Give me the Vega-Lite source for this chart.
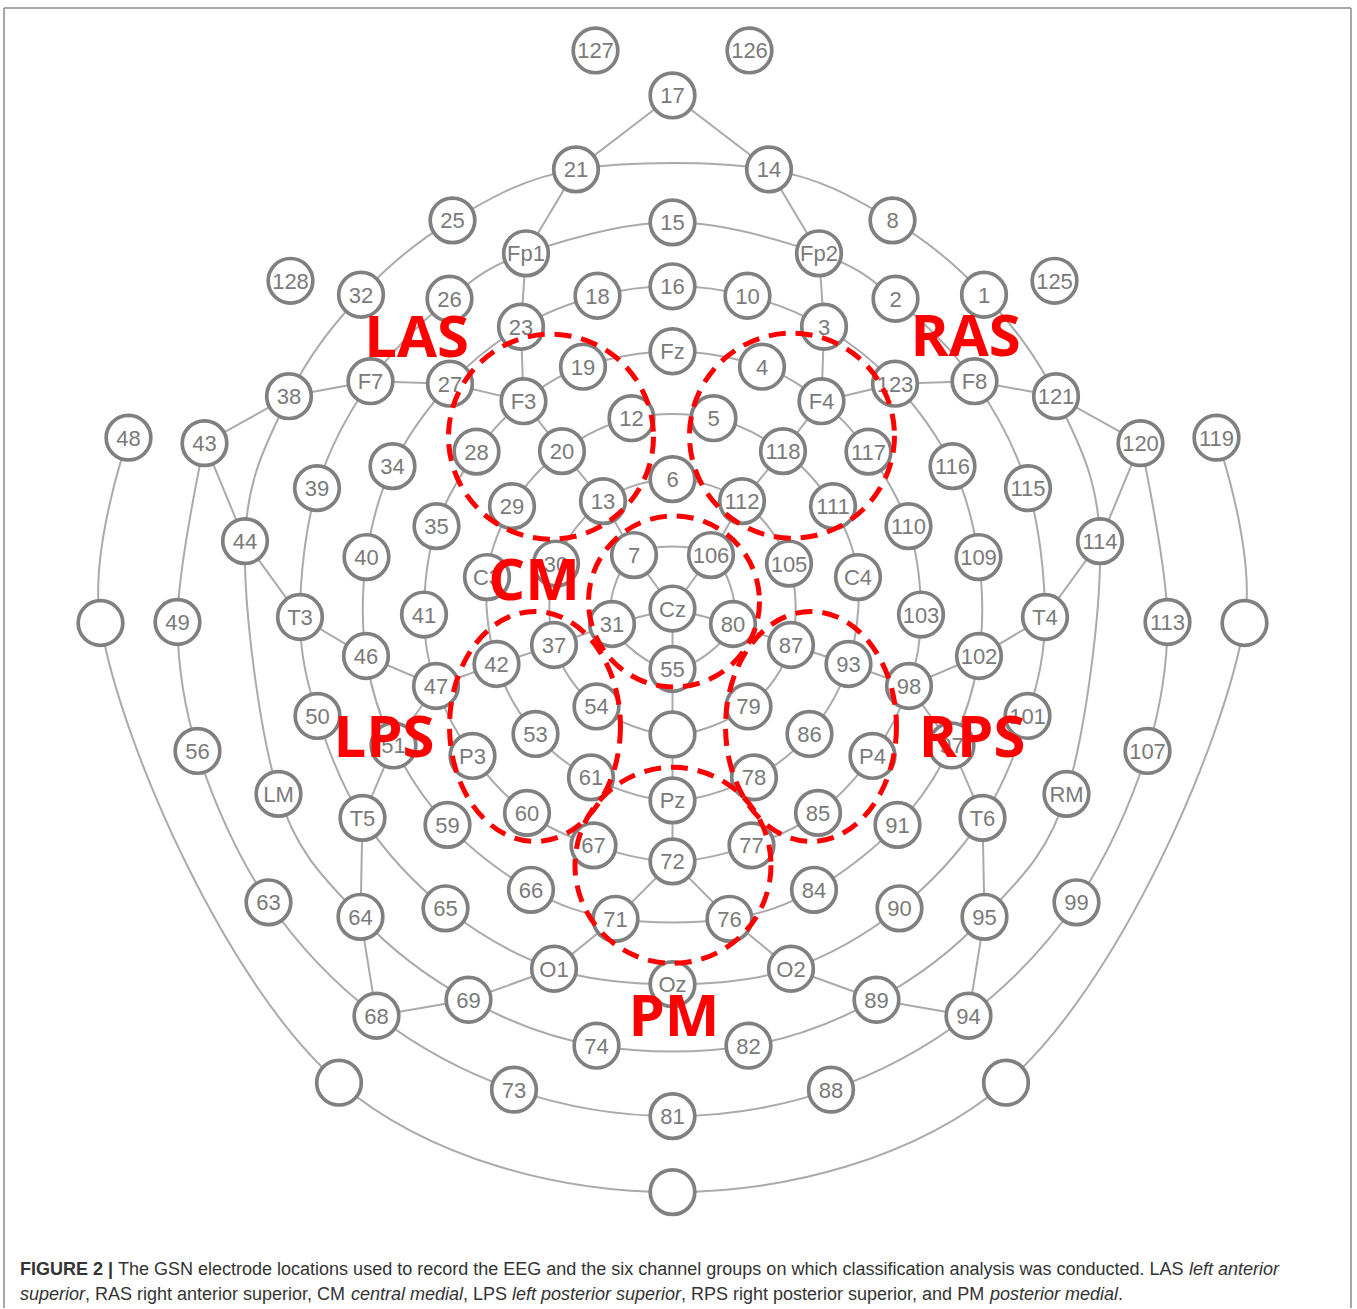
{
  "$schema": "https://vega.github.io/schema/vega-lite/v6.json",
  "width": 1357,
  "height": 1309,
  "autosize": {"type": "fit", "contains": "padding"},
  "padding": 0,
  "background": "#ffffff",
  "config": {"view": {"stroke": null}},
  "datasets": {
    "nodes": [
      {"id": "127", "label": "127", "x": 595.5, "y": 50.5},
      {"id": "126", "label": "126", "x": 749.5, "y": 50.5},
      {"id": "17", "label": "17", "x": 672.5, "y": 95.5},
      {"id": "21", "label": "21", "x": 576, "y": 169.5},
      {"id": "14", "label": "14", "x": 769, "y": 169.5},
      {"id": "25", "label": "25", "x": 452.5, "y": 220.5},
      {"id": "15", "label": "15", "x": 672.5, "y": 222.5},
      {"id": "8", "label": "8", "x": 892.5, "y": 220.5},
      {"id": "Fp1", "label": "Fp1", "x": 526, "y": 253.5},
      {"id": "Fp2", "label": "Fp2", "x": 819, "y": 253.5},
      {"id": "128", "label": "128", "x": 290.5, "y": 281},
      {"id": "125", "label": "125", "x": 1054.5, "y": 281},
      {"id": "32", "label": "32", "x": 361, "y": 295},
      {"id": "1", "label": "1", "x": 984, "y": 295},
      {"id": "26", "label": "26", "x": 449.5, "y": 299},
      {"id": "2", "label": "2", "x": 895.5, "y": 299},
      {"id": "18", "label": "18", "x": 597.5, "y": 296},
      {"id": "16", "label": "16", "x": 672.5, "y": 286.5},
      {"id": "10", "label": "10", "x": 747.5, "y": 296},
      {"id": "23", "label": "23", "x": 521, "y": 327},
      {"id": "3", "label": "3", "x": 824, "y": 327},
      {"id": "Fz", "label": "Fz", "x": 672.5, "y": 351.5},
      {"id": "19", "label": "19", "x": 583, "y": 367},
      {"id": "4", "label": "4", "x": 762, "y": 367},
      {"id": "F7", "label": "F7", "x": 370.5, "y": 381.5},
      {"id": "F8", "label": "F8", "x": 974.5, "y": 381.5},
      {"id": "27", "label": "27", "x": 450, "y": 384},
      {"id": "123", "label": "123", "x": 895, "y": 384},
      {"id": "F3", "label": "F3", "x": 523.5, "y": 401.5},
      {"id": "F4", "label": "F4", "x": 821.5, "y": 401.5},
      {"id": "12", "label": "12", "x": 631.5, "y": 418.5},
      {"id": "5", "label": "5", "x": 713.5, "y": 418.5},
      {"id": "38", "label": "38", "x": 289, "y": 396.5},
      {"id": "121", "label": "121", "x": 1056, "y": 396.5},
      {"id": "48", "label": "48", "x": 128.5, "y": 438},
      {"id": "119", "label": "119", "x": 1216.5, "y": 438},
      {"id": "43", "label": "43", "x": 204.5, "y": 443.5},
      {"id": "120", "label": "120", "x": 1140.5, "y": 443.5},
      {"id": "34", "label": "34", "x": 392.5, "y": 466.5},
      {"id": "116", "label": "116", "x": 952.5, "y": 466.5},
      {"id": "28", "label": "28", "x": 476.5, "y": 452},
      {"id": "117", "label": "117", "x": 868.5, "y": 452},
      {"id": "20", "label": "20", "x": 562, "y": 451.5},
      {"id": "118", "label": "118", "x": 783, "y": 451.5},
      {"id": "6", "label": "6", "x": 672.5, "y": 479.5},
      {"id": "39", "label": "39", "x": 317, "y": 488.5},
      {"id": "115", "label": "115", "x": 1028, "y": 488.5},
      {"id": "29", "label": "29", "x": 512, "y": 506.5},
      {"id": "111", "label": "111", "x": 833, "y": 506.5},
      {"id": "13", "label": "13", "x": 603, "y": 501.5},
      {"id": "112", "label": "112", "x": 742, "y": 501.5},
      {"id": "35", "label": "35", "x": 436.5, "y": 526.5},
      {"id": "110", "label": "110", "x": 908.5, "y": 526.5},
      {"id": "44", "label": "44", "x": 245, "y": 541.5},
      {"id": "114", "label": "114", "x": 1100, "y": 541.5},
      {"id": "40", "label": "40", "x": 366.5, "y": 557.5},
      {"id": "109", "label": "109", "x": 978.5, "y": 557.5},
      {"id": "30", "label": "30", "x": 556, "y": 564},
      {"id": "105", "label": "105", "x": 789, "y": 564},
      {"id": "C3", "label": "C3", "x": 487, "y": 577.5},
      {"id": "C4", "label": "C4", "x": 858, "y": 577.5},
      {"id": "7", "label": "7", "x": 634, "y": 555.5},
      {"id": "106", "label": "106", "x": 711, "y": 555.5},
      {"id": "Cz", "label": "Cz", "x": 672.5, "y": 609},
      {"id": "EL", "label": "", "x": 100.5, "y": 623.5},
      {"id": "ER", "label": "", "x": 1244.5, "y": 623.5},
      {"id": "49", "label": "49", "x": 177.5, "y": 622.5},
      {"id": "113", "label": "113", "x": 1167.5, "y": 622.5},
      {"id": "T3", "label": "T3", "x": 300, "y": 617.5},
      {"id": "T4", "label": "T4", "x": 1045, "y": 617.5},
      {"id": "41", "label": "41", "x": 424, "y": 615},
      {"id": "103", "label": "103", "x": 921, "y": 615},
      {"id": "31", "label": "31", "x": 612, "y": 624.5},
      {"id": "80", "label": "80", "x": 733, "y": 624.5},
      {"id": "37", "label": "37", "x": 554, "y": 645.5},
      {"id": "87", "label": "87", "x": 791, "y": 645.5},
      {"id": "42", "label": "42", "x": 496.5, "y": 664.5},
      {"id": "93", "label": "93", "x": 848.5, "y": 664.5},
      {"id": "46", "label": "46", "x": 366, "y": 656.5},
      {"id": "102", "label": "102", "x": 979, "y": 656.5},
      {"id": "55", "label": "55", "x": 672.5, "y": 669.5},
      {"id": "47", "label": "47", "x": 436, "y": 686.5},
      {"id": "98", "label": "98", "x": 909, "y": 686.5},
      {"id": "50", "label": "50", "x": 317.5, "y": 716.5},
      {"id": "101", "label": "101", "x": 1027.5, "y": 716.5},
      {"id": "54", "label": "54", "x": 596.5, "y": 707},
      {"id": "79", "label": "79", "x": 748.5, "y": 707},
      {"id": "EC", "label": "", "x": 672.5, "y": 735},
      {"id": "53", "label": "53", "x": 535.5, "y": 734.5},
      {"id": "86", "label": "86", "x": 809.5, "y": 734.5},
      {"id": "56", "label": "56", "x": 197.5, "y": 751.5},
      {"id": "107", "label": "107", "x": 1147.5, "y": 751.5},
      {"id": "51", "label": "51", "x": 393.5, "y": 746},
      {"id": "97", "label": "97", "x": 951.5, "y": 746},
      {"id": "P3", "label": "P3", "x": 472.5, "y": 756.5},
      {"id": "P4", "label": "P4", "x": 872.5, "y": 756.5},
      {"id": "61", "label": "61", "x": 591, "y": 778},
      {"id": "78", "label": "78", "x": 754, "y": 778},
      {"id": "LM", "label": "LM", "x": 278.5, "y": 794.5},
      {"id": "RM", "label": "RM", "x": 1066.5, "y": 794.5},
      {"id": "Pz", "label": "Pz", "x": 672.5, "y": 801},
      {"id": "T5", "label": "T5", "x": 362.5, "y": 818.5},
      {"id": "T6", "label": "T6", "x": 982.5, "y": 818.5},
      {"id": "59", "label": "59", "x": 447.5, "y": 825.5},
      {"id": "91", "label": "91", "x": 897.5, "y": 825.5},
      {"id": "60", "label": "60", "x": 527, "y": 813.5},
      {"id": "85", "label": "85", "x": 818, "y": 813.5},
      {"id": "67", "label": "67", "x": 593.5, "y": 846},
      {"id": "77", "label": "77", "x": 751.5, "y": 846},
      {"id": "72", "label": "72", "x": 672.5, "y": 862},
      {"id": "66", "label": "66", "x": 531, "y": 890.5},
      {"id": "84", "label": "84", "x": 814, "y": 890.5},
      {"id": "63", "label": "63", "x": 268.5, "y": 903},
      {"id": "99", "label": "99", "x": 1076.5, "y": 903},
      {"id": "64", "label": "64", "x": 360.5, "y": 917.5},
      {"id": "95", "label": "95", "x": 984.5, "y": 917.5},
      {"id": "65", "label": "65", "x": 445.5, "y": 909},
      {"id": "90", "label": "90", "x": 899.5, "y": 909},
      {"id": "71", "label": "71", "x": 615.5, "y": 919.5},
      {"id": "76", "label": "76", "x": 729.5, "y": 919.5},
      {"id": "O1", "label": "O1", "x": 554, "y": 969.5},
      {"id": "O2", "label": "O2", "x": 791, "y": 969.5},
      {"id": "Oz", "label": "Oz", "x": 672.5, "y": 985},
      {"id": "69", "label": "69", "x": 468.5, "y": 1000.5},
      {"id": "89", "label": "89", "x": 876.5, "y": 1000.5},
      {"id": "68", "label": "68", "x": 376.5, "y": 1016.5},
      {"id": "94", "label": "94", "x": 968.5, "y": 1016.5},
      {"id": "74", "label": "74", "x": 596.5, "y": 1046.5},
      {"id": "82", "label": "82", "x": 748.5, "y": 1046.5},
      {"id": "EBL", "label": "", "x": 339, "y": 1083.5},
      {"id": "EBR", "label": "", "x": 1006, "y": 1083.5},
      {"id": "73", "label": "73", "x": 514, "y": 1090.5},
      {"id": "88", "label": "88", "x": 831, "y": 1090.5},
      {"id": "81", "label": "81", "x": 672.5, "y": 1117},
      {"id": "EB", "label": "", "x": 672.5, "y": 1193}
    ],
    "paths": [
      {"path": "R62", "kind": "ring", "seq": 1, "node": "7"},
      {"path": "R62", "kind": "ring", "seq": 2, "node": "106"},
      {"path": "R62", "kind": "ring", "seq": 3, "node": "80"},
      {"path": "R62", "kind": "ring", "seq": 4, "node": "55"},
      {"path": "R62", "kind": "ring", "seq": 5, "node": "31"},
      {"path": "R125", "kind": "ring", "seq": 1, "node": "6"},
      {"path": "R125", "kind": "ring", "seq": 2, "node": "112"},
      {"path": "R125", "kind": "ring", "seq": 3, "node": "105"},
      {"path": "R125", "kind": "ring", "seq": 4, "node": "87"},
      {"path": "R125", "kind": "ring", "seq": 5, "node": "79"},
      {"path": "R125", "kind": "ring", "seq": 6, "node": "EC"},
      {"path": "R125", "kind": "ring", "seq": 7, "node": "54"},
      {"path": "R125", "kind": "ring", "seq": 8, "node": "37"},
      {"path": "R125", "kind": "ring", "seq": 9, "node": "30"},
      {"path": "R125", "kind": "ring", "seq": 10, "node": "13"},
      {"path": "R190", "kind": "ring", "seq": 1, "node": "12"},
      {"path": "R190", "kind": "ring", "seq": 2, "node": "5"},
      {"path": "R190", "kind": "ring", "seq": 3, "node": "118"},
      {"path": "R190", "kind": "ring", "seq": 4, "node": "111"},
      {"path": "R190", "kind": "ring", "seq": 5, "node": "C4"},
      {"path": "R190", "kind": "ring", "seq": 6, "node": "93"},
      {"path": "R190", "kind": "ring", "seq": 7, "node": "86"},
      {"path": "R190", "kind": "ring", "seq": 8, "node": "78"},
      {"path": "R190", "kind": "ring", "seq": 9, "node": "Pz"},
      {"path": "R190", "kind": "ring", "seq": 10, "node": "61"},
      {"path": "R190", "kind": "ring", "seq": 11, "node": "53"},
      {"path": "R190", "kind": "ring", "seq": 12, "node": "42"},
      {"path": "R190", "kind": "ring", "seq": 13, "node": "C3"},
      {"path": "R190", "kind": "ring", "seq": 14, "node": "29"},
      {"path": "R190", "kind": "ring", "seq": 15, "node": "20"},
      {"path": "R255", "kind": "ring", "seq": 1, "node": "Fz"},
      {"path": "R255", "kind": "ring", "seq": 2, "node": "4"},
      {"path": "R255", "kind": "ring", "seq": 3, "node": "F4"},
      {"path": "R255", "kind": "ring", "seq": 4, "node": "117"},
      {"path": "R255", "kind": "ring", "seq": 5, "node": "110"},
      {"path": "R255", "kind": "ring", "seq": 6, "node": "103"},
      {"path": "R255", "kind": "ring", "seq": 7, "node": "98"},
      {"path": "R255", "kind": "ring", "seq": 8, "node": "P4"},
      {"path": "R255", "kind": "ring", "seq": 9, "node": "85"},
      {"path": "R255", "kind": "ring", "seq": 10, "node": "77"},
      {"path": "R255", "kind": "ring", "seq": 11, "node": "72"},
      {"path": "R255", "kind": "ring", "seq": 12, "node": "67"},
      {"path": "R255", "kind": "ring", "seq": 13, "node": "60"},
      {"path": "R255", "kind": "ring", "seq": 14, "node": "P3"},
      {"path": "R255", "kind": "ring", "seq": 15, "node": "47"},
      {"path": "R255", "kind": "ring", "seq": 16, "node": "41"},
      {"path": "R255", "kind": "ring", "seq": 17, "node": "35"},
      {"path": "R255", "kind": "ring", "seq": 18, "node": "28"},
      {"path": "R255", "kind": "ring", "seq": 19, "node": "F3"},
      {"path": "R255", "kind": "ring", "seq": 20, "node": "19"},
      {"path": "R320", "kind": "ring", "seq": 1, "node": "16"},
      {"path": "R320", "kind": "ring", "seq": 2, "node": "10"},
      {"path": "R320", "kind": "ring", "seq": 3, "node": "3"},
      {"path": "R320", "kind": "ring", "seq": 4, "node": "123"},
      {"path": "R320", "kind": "ring", "seq": 5, "node": "116"},
      {"path": "R320", "kind": "ring", "seq": 6, "node": "109"},
      {"path": "R320", "kind": "ring", "seq": 7, "node": "102"},
      {"path": "R320", "kind": "ring", "seq": 8, "node": "97"},
      {"path": "R320", "kind": "ring", "seq": 9, "node": "91"},
      {"path": "R320", "kind": "ring", "seq": 10, "node": "84"},
      {"path": "R320", "kind": "ring", "seq": 11, "node": "76"},
      {"path": "R320", "kind": "ring", "seq": 12, "node": "71"},
      {"path": "R320", "kind": "ring", "seq": 13, "node": "66"},
      {"path": "R320", "kind": "ring", "seq": 14, "node": "59"},
      {"path": "R320", "kind": "ring", "seq": 15, "node": "51"},
      {"path": "R320", "kind": "ring", "seq": 16, "node": "46"},
      {"path": "R320", "kind": "ring", "seq": 17, "node": "40"},
      {"path": "R320", "kind": "ring", "seq": 18, "node": "34"},
      {"path": "R320", "kind": "ring", "seq": 19, "node": "27"},
      {"path": "R320", "kind": "ring", "seq": 20, "node": "23"},
      {"path": "R320", "kind": "ring", "seq": 21, "node": "18"},
      {"path": "R380", "kind": "ring", "seq": 1, "node": "15"},
      {"path": "R380", "kind": "ring", "seq": 2, "node": "Fp2"},
      {"path": "R380", "kind": "ring", "seq": 3, "node": "2"},
      {"path": "R380", "kind": "ring", "seq": 4, "node": "F8"},
      {"path": "R380", "kind": "ring", "seq": 5, "node": "115"},
      {"path": "R380", "kind": "ring", "seq": 6, "node": "T4"},
      {"path": "R380", "kind": "ring", "seq": 7, "node": "101"},
      {"path": "R380", "kind": "ring", "seq": 8, "node": "T6"},
      {"path": "R380", "kind": "ring", "seq": 9, "node": "90"},
      {"path": "R380", "kind": "ring", "seq": 10, "node": "O2"},
      {"path": "R380", "kind": "ring", "seq": 11, "node": "Oz"},
      {"path": "R380", "kind": "ring", "seq": 12, "node": "O1"},
      {"path": "R380", "kind": "ring", "seq": 13, "node": "65"},
      {"path": "R380", "kind": "ring", "seq": 14, "node": "T5"},
      {"path": "R380", "kind": "ring", "seq": 15, "node": "50"},
      {"path": "R380", "kind": "ring", "seq": 16, "node": "T3"},
      {"path": "R380", "kind": "ring", "seq": 17, "node": "39"},
      {"path": "R380", "kind": "ring", "seq": 18, "node": "F7"},
      {"path": "R380", "kind": "ring", "seq": 19, "node": "26"},
      {"path": "R380", "kind": "ring", "seq": 20, "node": "Fp1"},
      {"path": "R440", "kind": "ring", "seq": 1, "node": "21"},
      {"path": "R440", "kind": "ring", "seq": 2, "node": "14"},
      {"path": "R440", "kind": "ring", "seq": 3, "node": "8"},
      {"path": "R440", "kind": "ring", "seq": 4, "node": "1"},
      {"path": "R440", "kind": "ring", "seq": 5, "node": "121"},
      {"path": "R440", "kind": "ring", "seq": 6, "node": "114"},
      {"path": "R440", "kind": "ring", "seq": 7, "node": "RM"},
      {"path": "R440", "kind": "ring", "seq": 8, "node": "95"},
      {"path": "R440", "kind": "ring", "seq": 9, "node": "89"},
      {"path": "R440", "kind": "ring", "seq": 10, "node": "82"},
      {"path": "R440", "kind": "ring", "seq": 11, "node": "74"},
      {"path": "R440", "kind": "ring", "seq": 12, "node": "69"},
      {"path": "R440", "kind": "ring", "seq": 13, "node": "64"},
      {"path": "R440", "kind": "ring", "seq": 14, "node": "LM"},
      {"path": "R440", "kind": "ring", "seq": 15, "node": "44"},
      {"path": "R440", "kind": "ring", "seq": 16, "node": "38"},
      {"path": "R440", "kind": "ring", "seq": 17, "node": "32"},
      {"path": "R440", "kind": "ring", "seq": 18, "node": "25"},
      {"path": "R500", "kind": "arc", "seq": 1, "node": "43"},
      {"path": "R500", "kind": "arc", "seq": 2, "node": "49"},
      {"path": "R500", "kind": "arc", "seq": 3, "node": "56"},
      {"path": "R500", "kind": "arc", "seq": 4, "node": "63"},
      {"path": "R500", "kind": "arc", "seq": 5, "node": "68"},
      {"path": "R500", "kind": "arc", "seq": 6, "node": "73"},
      {"path": "R500", "kind": "arc", "seq": 7, "node": "81"},
      {"path": "R500", "kind": "arc", "seq": 8, "node": "88"},
      {"path": "R500", "kind": "arc", "seq": 9, "node": "94"},
      {"path": "R500", "kind": "arc", "seq": 10, "node": "99"},
      {"path": "R500", "kind": "arc", "seq": 11, "node": "107"},
      {"path": "R500", "kind": "arc", "seq": 12, "node": "113"},
      {"path": "R500", "kind": "arc", "seq": 13, "node": "120"},
      {"path": "R575", "kind": "arc", "seq": 1, "node": "48"},
      {"path": "R575", "kind": "arc", "seq": 2, "node": "EL"},
      {"path": "R575", "kind": "arc", "seq": 3, "node": "EBL"},
      {"path": "R575", "kind": "arc", "seq": 4, "node": "EB"},
      {"path": "R575", "kind": "arc", "seq": 5, "node": "EBR"},
      {"path": "R575", "kind": "arc", "seq": 6, "node": "ER"},
      {"path": "R575", "kind": "arc", "seq": 7, "node": "119"},
      {"path": "S1", "kind": "spoke", "seq": 1, "node": "Cz"},
      {"path": "S1", "kind": "spoke", "seq": 2, "node": "7"},
      {"path": "S1", "kind": "spoke", "seq": 3, "node": "13"},
      {"path": "S1", "kind": "spoke", "seq": 4, "node": "20"},
      {"path": "S1", "kind": "spoke", "seq": 5, "node": "F3"},
      {"path": "S1", "kind": "spoke", "seq": 6, "node": "23"},
      {"path": "S1", "kind": "spoke", "seq": 7, "node": "Fp1"},
      {"path": "S1", "kind": "spoke", "seq": 8, "node": "21"},
      {"path": "S1", "kind": "spoke", "seq": 9, "node": "17"},
      {"path": "S2", "kind": "spoke", "seq": 1, "node": "Cz"},
      {"path": "S2", "kind": "spoke", "seq": 2, "node": "106"},
      {"path": "S2", "kind": "spoke", "seq": 3, "node": "112"},
      {"path": "S2", "kind": "spoke", "seq": 4, "node": "118"},
      {"path": "S2", "kind": "spoke", "seq": 5, "node": "F4"},
      {"path": "S2", "kind": "spoke", "seq": 6, "node": "3"},
      {"path": "S2", "kind": "spoke", "seq": 7, "node": "Fp2"},
      {"path": "S2", "kind": "spoke", "seq": 8, "node": "14"},
      {"path": "S2", "kind": "spoke", "seq": 9, "node": "17"},
      {"path": "S3", "kind": "spoke", "seq": 1, "node": "Cz"},
      {"path": "S3", "kind": "spoke", "seq": 2, "node": "31"},
      {"path": "S3", "kind": "spoke", "seq": 3, "node": "37"},
      {"path": "S3", "kind": "spoke", "seq": 4, "node": "42"},
      {"path": "S3", "kind": "spoke", "seq": 5, "node": "47"},
      {"path": "S3", "kind": "spoke", "seq": 6, "node": "46"},
      {"path": "S3", "kind": "spoke", "seq": 7, "node": "T3"},
      {"path": "S3", "kind": "spoke", "seq": 8, "node": "44"},
      {"path": "S3", "kind": "spoke", "seq": 9, "node": "43"},
      {"path": "S4", "kind": "spoke", "seq": 1, "node": "Cz"},
      {"path": "S4", "kind": "spoke", "seq": 2, "node": "80"},
      {"path": "S4", "kind": "spoke", "seq": 3, "node": "87"},
      {"path": "S4", "kind": "spoke", "seq": 4, "node": "93"},
      {"path": "S4", "kind": "spoke", "seq": 5, "node": "98"},
      {"path": "S4", "kind": "spoke", "seq": 6, "node": "102"},
      {"path": "S4", "kind": "spoke", "seq": 7, "node": "T4"},
      {"path": "S4", "kind": "spoke", "seq": 8, "node": "114"},
      {"path": "S4", "kind": "spoke", "seq": 9, "node": "120"},
      {"path": "S5", "kind": "spoke", "seq": 1, "node": "Cz"},
      {"path": "S5", "kind": "spoke", "seq": 2, "node": "55"},
      {"path": "S5", "kind": "spoke", "seq": 3, "node": "EC"},
      {"path": "S5", "kind": "spoke", "seq": 4, "node": "Pz"},
      {"path": "S5", "kind": "spoke", "seq": 5, "node": "72"},
      {"path": "S6", "kind": "spoke", "seq": 1, "node": "72"},
      {"path": "S6", "kind": "spoke", "seq": 2, "node": "71"},
      {"path": "S6", "kind": "spoke", "seq": 3, "node": "O1"},
      {"path": "S6", "kind": "spoke", "seq": 4, "node": "69"},
      {"path": "S6", "kind": "spoke", "seq": 5, "node": "68"},
      {"path": "S7", "kind": "spoke", "seq": 1, "node": "72"},
      {"path": "S7", "kind": "spoke", "seq": 2, "node": "76"},
      {"path": "S7", "kind": "spoke", "seq": 3, "node": "O2"},
      {"path": "S7", "kind": "spoke", "seq": 4, "node": "89"},
      {"path": "S7", "kind": "spoke", "seq": 5, "node": "94"},
      {"path": "S8", "kind": "spoke", "seq": 1, "node": "F3"},
      {"path": "S8", "kind": "spoke", "seq": 2, "node": "27"},
      {"path": "S8", "kind": "spoke", "seq": 3, "node": "F7"},
      {"path": "S8", "kind": "spoke", "seq": 4, "node": "38"},
      {"path": "S8", "kind": "spoke", "seq": 5, "node": "43"},
      {"path": "S9", "kind": "spoke", "seq": 1, "node": "F4"},
      {"path": "S9", "kind": "spoke", "seq": 2, "node": "123"},
      {"path": "S9", "kind": "spoke", "seq": 3, "node": "F8"},
      {"path": "S9", "kind": "spoke", "seq": 4, "node": "121"},
      {"path": "S9", "kind": "spoke", "seq": 5, "node": "120"},
      {"path": "S10", "kind": "spoke", "seq": 1, "node": "47"},
      {"path": "S10", "kind": "spoke", "seq": 2, "node": "51"},
      {"path": "S10", "kind": "spoke", "seq": 3, "node": "T5"},
      {"path": "S10", "kind": "spoke", "seq": 4, "node": "64"},
      {"path": "S10", "kind": "spoke", "seq": 5, "node": "68"},
      {"path": "S11", "kind": "spoke", "seq": 1, "node": "98"},
      {"path": "S11", "kind": "spoke", "seq": 2, "node": "97"},
      {"path": "S11", "kind": "spoke", "seq": 3, "node": "T6"},
      {"path": "S11", "kind": "spoke", "seq": 4, "node": "95"},
      {"path": "S11", "kind": "spoke", "seq": 5, "node": "94"}
    ]
  },
  "encoding": {
    "x": {"field": "x", "type": "quantitative", "scale": {"domain": [0, 1357], "nice": false, "zero": false}, "axis": null},
    "y": {"field": "y", "type": "quantitative", "scale": {"domain": [0, 1309], "reverse": true, "nice": false, "zero": false}, "axis": null}
  },
  "layer": [
    {
      "data": {"name": "paths"},
      "transform": [
        {"filter": "datum.kind == 'ring'"},
        {"lookup": "node", "from": {"data": {"name": "nodes"}, "key": "id", "fields": ["x", "y"]}}
      ],
      "mark": {"type": "line", "interpolate": "cardinal-closed", "color": "#aaaaaa", "strokeWidth": 2},
      "encoding": {
        "detail": {"field": "path", "type": "nominal"},
        "order": {"field": "seq", "type": "quantitative"}
      }
    },
    {
      "data": {"name": "paths"},
      "transform": [
        {"filter": "datum.kind == 'arc'"},
        {"lookup": "node", "from": {"data": {"name": "nodes"}, "key": "id", "fields": ["x", "y"]}}
      ],
      "mark": {"type": "line", "interpolate": "catmull-rom", "color": "#aaaaaa", "strokeWidth": 2},
      "encoding": {
        "detail": {"field": "path", "type": "nominal"},
        "order": {"field": "seq", "type": "quantitative"}
      }
    },
    {
      "data": {"name": "paths"},
      "transform": [
        {"filter": "datum.kind == 'spoke'"},
        {"lookup": "node", "from": {"data": {"name": "nodes"}, "key": "id", "fields": ["x", "y"]}}
      ],
      "mark": {"type": "line", "interpolate": "linear", "color": "#aaaaaa", "strokeWidth": 2},
      "encoding": {
        "detail": {"field": "path", "type": "nominal"},
        "order": {"field": "seq", "type": "quantitative"}
      }
    },
    {
      "data": {"name": "nodes"},
      "mark": {"type": "point", "shape": "circle", "size": 1990, "filled": true, "fill": "#ffffff", "stroke": "#808080", "strokeWidth": 3.7, "opacity": 1}
    },
    {
      "data": {"name": "nodes"},
      "mark": {"type": "text", "font": "Liberation Sans", "fontSize": 22, "color": "#7a7a7a", "align": "center", "baseline": "alphabetic", "dy": 8},
      "encoding": {"text": {"field": "label", "type": "nominal"}}
    },
    {
      "data": {"values": [
        {"group": "LAS", "x": 551, "y": 437},
        {"group": "RAS", "x": 792, "y": 436}
      ]},
      "mark": {"type": "point", "shape": "circle", "size": 42025, "filled": false, "color": "#ff0000", "stroke": "#ff0000", "strokeWidth": 5, "strokeDash": [17, 10], "opacity": 1}
    },
    {
      "data": {"values": [
        {"group": "CM", "x": 674, "y": 602}
      ]},
      "mark": {"type": "point", "shape": "circle", "size": 29241, "filled": false, "color": "#ff0000", "stroke": "#ff0000", "strokeWidth": 5, "strokeDash": [17, 10], "opacity": 1}
    },
    {
      "data": {"values": [
        {"group": "PM", "x": 673, "y": 866}
      ]},
      "mark": {"type": "point", "shape": "circle", "size": 38416, "filled": false, "color": "#ff0000", "stroke": "#ff0000", "strokeWidth": 5, "strokeDash": [17, 10], "opacity": 1}
    },
    {
      "data": {"values": [
        {"group": "LPS", "x": 535, "y": 727},
        {"group": "RPS", "x": 811, "y": 727}
      ]},
      "mark": {"type": "point", "shape": "M0.743,0C0.743,0.552,0.41,1,0,1C-0.41,1,-0.743,0.552,-0.743,0C-0.743,-0.552,-0.41,-1,0,-1C0.41,-1,0.743,-0.552,0.743,0Z", "size": 52900, "filled": false, "color": "#ff0000", "stroke": "#ff0000", "strokeWidth": 5, "strokeDash": [17, 10], "opacity": 1}
    },
    {
      "data": {"values": [
        {"text": "LAS", "x": 416.5, "y": 357},
        {"text": "RAS", "x": 965.5, "y": 356},
        {"text": "CM", "x": 534, "y": 600},
        {"text": "LPS", "x": 384, "y": 758},
        {"text": "RPS", "x": 972, "y": 758},
        {"text": "PM", "x": 674, "y": 1037}
      ]},
      "mark": {"type": "text", "font": "Open Sans", "fontWeight": "bold", "fontSize": 58, "color": "#ff0000", "align": "center", "baseline": "alphabetic"},
      "encoding": {"text": {"field": "text", "type": "nominal"}}
    },
    {
      "data": {"values": [
        {"x": 4, "y": 8, "x2": 4, "y2": 1309},
        {"x": 4, "y": 8, "x2": 1351, "y2": 8},
        {"x": 1351, "y": 8, "x2": 1351, "y2": 1309}
      ]},
      "mark": {"type": "rule", "color": "#8a8a8a", "strokeWidth": 1.5},
      "encoding": {
        "x2": {"field": "x2"},
        "y2": {"field": "y2"}
      }
    },
    {
      "data": {"values": [
        {"text": "FIGURE 2 |", "x": 20, "y": 1276}
      ]},
      "mark": {"type": "text", "font": "Liberation Sans", "fontSize": 18, "fontWeight": "bold", "color": "#333333", "align": "left", "baseline": "alphabetic"},
      "encoding": {"text": {"field": "text", "type": "nominal"}}
    },
    {
      "data": {"values": [
        {"text": "The GSN electrode locations used to record the EEG and the six channel groups on which classification analysis was conducted. LAS", "x": 118, "y": 1276},
        {"text": ", RAS right anterior superior, CM", "x": 85, "y": 1301},
        {"text": ", LPS", "x": 463, "y": 1301},
        {"text": ", RPS right posterior superior, and PM", "x": 681, "y": 1301},
        {"text": ".", "x": 1118, "y": 1301}
      ]},
      "mark": {"type": "text", "font": "Liberation Sans", "fontSize": 18, "color": "#333333", "align": "left", "baseline": "alphabetic"},
      "encoding": {"text": {"field": "text", "type": "nominal"}}
    },
    {
      "data": {"values": [
        {"text": "left anterior", "x": 1189, "y": 1276},
        {"text": "superior", "x": 20, "y": 1301},
        {"text": "central medial", "x": 351, "y": 1301},
        {"text": "left posterior superior", "x": 512, "y": 1301},
        {"text": "posterior medial", "x": 990, "y": 1301}
      ]},
      "mark": {"type": "text", "font": "Liberation Sans", "fontSize": 18, "fontStyle": "italic", "color": "#333333", "align": "left", "baseline": "alphabetic"},
      "encoding": {"text": {"field": "text", "type": "nominal"}}
    }
  ]
}
